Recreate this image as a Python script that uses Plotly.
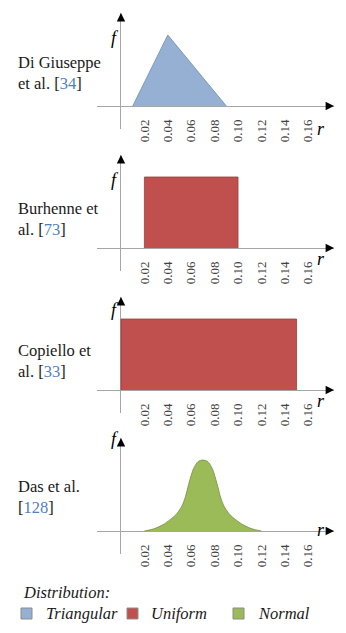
import plotly.graph_objects as go

W, H = 346, 633

# tick values / labels on the r axis
r_ticks = [0.02, 0.04, 0.06, 0.08, 0.10, 0.12, 0.14, 0.16]
r_tick_text = ["0.02", "0.04", "0.06", "0.08", "0.10", "0.12", "0.14", "0.16"]

# study names (left labels)
studies = ["Di Giuseppe<br>et al. [<span style='color:#4f81bd'>34</span>]",
           "Burhenne et<br>al. [<span style='color:#4f81bd'>73</span>]",
           "Copiello et<br>al. [<span style='color:#4f81bd'>33</span>]",
           "Das et al.<br>[<span style='color:#4f81bd'>128</span>]"]

# Di Giuseppe et al. - triangular
tri_r = [0.01, 0.04, 0.09]
tri_f = [0.0, 1.0, 0.0]

# Burhenne et al. - uniform
burh_r = [0.02, 0.02, 0.10, 0.10]
burh_f = [0.0, 1.0, 1.0, 0.0]

# Copiello et al. - uniform
copi_r = [0.00, 0.00, 0.15, 0.15]
copi_f = [0.0, 1.0, 1.0, 0.0]

# Das et al. - normal
das_r = [0.020, 0.028, 0.036, 0.042, 0.047, 0.052, 0.055, 0.058, 0.062, 0.066, 0.070,
         0.074, 0.078, 0.082, 0.085, 0.088, 0.093, 0.098, 0.104, 0.112, 0.120]
das_f = [0.00, 0.03, 0.09, 0.16, 0.23, 0.35, 0.48, 0.67, 0.88, 0.98, 1.00,
         0.98, 0.88, 0.67, 0.48, 0.35, 0.23, 0.16, 0.09, 0.03, 0.00]

dist_names = ["Triangular", "Uniform", "Normal"]
dist_fill = ["#95b0d3", "#c0504d", "#9bbb59"]
dist_line = ["#6f8db5", "#9a3d3a", "#73903c"]

panels = [(tri_r, tri_f, 0, "linear"),
          (burh_r, burh_f, 1, "linear"),
          (copi_r, copi_f, 1, "linear"),
          (das_r, das_f, 2, "spline")]

SERIF = "Times New Roman, Liberation Serif, serif"

axis_px = [106, 248, 390, 531]   # pixel row of the r axis in each panel
up, down = 93, 23                 # f axis extent above / below r axis
peak_px = 71
x_lo, x_hi = -0.0205, 0.182
f_lo, f_hi = -down / peak_px, up / peak_px


def py(p):
    return 1 - p / H


def px(p):
    return p / W


fig = go.Figure()
annotations = []
layout = {}

for i, (rr, ff, k, shape) in enumerate(panels):
    n = "" if i == 0 else str(i + 1)
    a = axis_px[i]
    fig.add_trace(go.Scatter(x=rr, y=ff, mode="lines", fill="toself",
                             fillcolor=dist_fill[k], line=dict(color=dist_line[k], width=0.8, shape=shape,
                                                               smoothing=0.8),
                             showlegend=False, hoverinfo="skip",
                             xaxis="x" + n, yaxis="y" + n))
    layout["xaxis" + n] = dict(domain=[px(97), px(334)], range=[x_lo, x_hi],
                               anchor="free", position=py(a + 10),
                               tickvals=r_ticks, ticktext=r_tick_text, tickangle=-90,
                               ticks="", showgrid=False, showline=False,
                               zeroline=True, zerolinecolor="#a6a6a6", zerolinewidth=1,
                               tickfont=dict(family=SERIF, size=13, color="#404040"),
                               fixedrange=True)
    layout["yaxis" + n] = dict(domain=[py(a + down), py(a - up)], range=[f_lo, f_hi],
                               anchor="x" + n, showticklabels=False, ticks="",
                               showgrid=False, showline=False,
                               zeroline=True, zerolinecolor="#a6a6a6", zerolinewidth=1,
                               fixedrange=True)
    # arrow heads
    annotations.append(dict(x=0, y=f_hi, xref="x" + n, yref="y" + n, ax=0, ay=7,
                            showarrow=True, arrowhead=2, arrowsize=1.4, arrowwidth=1.2,
                            arrowcolor="#000000", text=""))
    annotations.append(dict(x=x_hi, y=0, xref="x" + n, yref="y" + n, ax=-7, ay=0,
                            showarrow=True, arrowhead=2, arrowsize=1.4, arrowwidth=1.2,
                            arrowcolor="#000000", text=""))
    # axis letters
    annotations.append(dict(x=px(109), y=py(a - up + 13), xref="paper", yref="paper",
                            text="<i>f</i>", showarrow=False,
                            font=dict(family=SERIF, size=18, color="#000000")))
    annotations.append(dict(x=px(327), y=py(a + 11), xref="paper", yref="paper",
                            text="<i>r</i>", showarrow=False,
                            font=dict(family=SERIF, size=18, color="#000000")))
    # study label
    label_off = [33, 29, 29, 34][i]
    annotations.append(dict(x=px(16), y=py(a - label_off), xref="paper", yref="paper",
                            xanchor="left", yanchor="middle", align="left",
                            text=studies[i], showarrow=False,
                            font=dict(family=SERIF, size=16.5, color="#1a1a1a")))

# legend
annotations.append(dict(x=px(21), y=py(592), xref="paper", yref="paper",
                        xanchor="left", yanchor="middle", text="<i>Distribution:</i>",
                        showarrow=False, font=dict(family=SERIF, size=16.5, color="#1a1a1a")))
sq_x = [21, 127, 233]
txt_x = [44, 149, 256]
shapes = []
for k in range(3):
    shapes.append(dict(type="rect", xref="paper", yref="paper",
                       x0=px(sq_x[k]), x1=px(sq_x[k] + 11), y0=py(619), y1=py(608),
                       fillcolor=dist_fill[k], line=dict(color="#8c8c8c", width=1)))
    annotations.append(dict(x=px(txt_x[k]), y=py(613.5), xref="paper", yref="paper",
                            xanchor="left", yanchor="middle", text="<i>" + dist_names[k] + "</i>",
                            showarrow=False, font=dict(family=SERIF, size=16.5, color="#1a1a1a")))

fig.update_layout(width=W, height=H, margin=dict(l=0, r=0, t=0, b=0),
                  paper_bgcolor="white", plot_bgcolor="rgba(0,0,0,0)",
                  annotations=annotations, shapes=shapes, **layout)

fig.write_html("out.html", config={"displayModeBar": False},
               post_script="document.body.style.margin='0px';")
